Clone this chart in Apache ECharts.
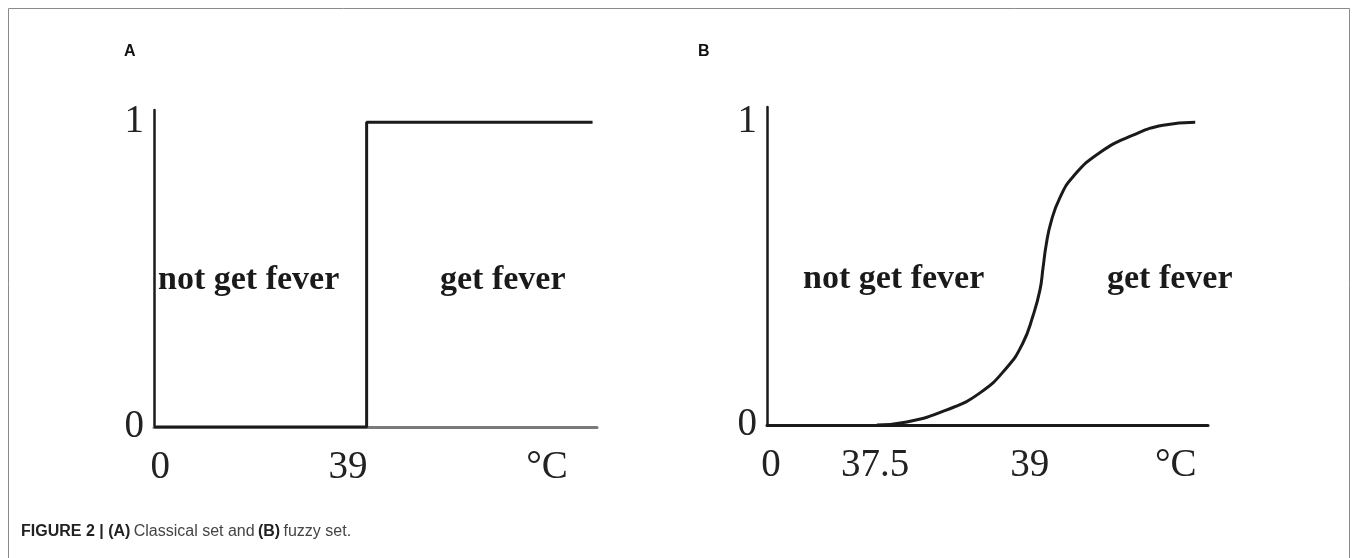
<!DOCTYPE html>
<html>
<head>
<meta charset="utf-8">
<script src="https://cdn.jsdelivr.net/npm/echarts@6/dist/echarts.min.js"></script>
<style>
  html, body { margin: 0; padding: 0; background: #fff; }
  #chart { width: 1357px; height: 558px; }
</style>
</head>
<body>
<div id="chart"></div>
<script>
// schematic x units: 0..100 across each axis
const tickPosA = [1.4, 43.8, 88.7];
const tickLabelsA = ["0", "39", "°C"];
const stepX = [0, 48, 48, 99];
const stepY = [0, 0, 1, 1];

const tickPosB = [0.9, 24.5, 59.6, 92.7];
const tickLabelsB = ["0", "37.5", "39", "°C"];
const curveX = [24.9, 31.7, 40.8, 48.3, 54.4, 58.0, 60.3, 61.9, 62.6, 63.3, 64.4, 66.4, 69.4, 75.5, 83.0, 89.8, 97.1];
const curveY = [0, 0.01, 0.05, 0.106, 0.19, 0.27, 0.36, 0.446, 0.52, 0.594, 0.67, 0.75, 0.82, 0.90, 0.957, 0.99, 1.0];

const yTicks = [0, 1];
const regionLabels = ["not get fever", "get fever"];

const chart = echarts.init(document.getElementById("chart"));

const serif = "'Liberation Serif', 'Times New Roman', serif";
const ink = "#1a1a1a";

function pairs(xs, ys) {
  return xs.map((x, i) => [x, ys[i]]);
}

function xAxisFor(gridIndex, pos, labels, lineColor) {
  return {
    type: "value",
    gridIndex,
    min: 0,
    max: 100,
    splitLine: { show: false },
    axisTick: { show: false },
    axisLine: { show: true, onZero: false, lineStyle: { color: lineColor, width: 3 } },
    axisLabel: {
      customValues: pos,
      formatter: (v) => labels[pos.indexOf(v)] || "",
      fontFamily: serif,
      fontSize: 39,
      color: "#222",
      margin: 21,
    },
  };
}

function yAxisFor(gridIndex, max) {
  return {
    type: "value",
    gridIndex,
    min: 0,
    max,
    splitLine: { show: false },
    axisTick: { show: false },
    axisLine: { show: true, lineStyle: { color: ink, width: 2.5 } },
    axisLabel: {
      customValues: yTicks,
      formatter: (v) => (yTicks.includes(v) ? String(v) : ""),
      fontFamily: serif,
      fontSize: 39,
      color: "#222",
      margin: 10,
    },
  };
}

function textAt(left, top, text, size) {
  return {
    type: "text",
    left,
    top,
    style: { text, font: "bold " + size + "px " + serif, fill: ink },
  };
}

chart.setOption({
  animation: false,
  grid: [
    { left: 154, top: 110, width: 443, height: 317 },
    { left: 767, top: 107, width: 441, height: 318 },
  ],
  xAxis: [
    xAxisFor(0, tickPosA, tickLabelsA, "#7a7a7a"),
    xAxisFor(1, tickPosB, tickLabelsB, ink),
  ],
  yAxis: [yAxisFor(0, 1.04), yAxisFor(1, 1.05)],
  series: [
    {
      type: "line",
      xAxisIndex: 0,
      yAxisIndex: 0,
      data: pairs(stepX, stepY),
      symbol: "none",
      lineStyle: { color: ink, width: 3 },
    },
    {
      type: "line",
      xAxisIndex: 1,
      yAxisIndex: 1,
      data: pairs(curveX, curveY),
      symbol: "none",
      smooth: 0.5,
      lineStyle: { color: ink, width: 3 },
    },
  ],
  graphic: [
    {
      type: "rect",
      shape: { x: 8.5, y: 8.5, width: 1341, height: 600 },
      style: { fill: "none", stroke: "#8a8a8a", lineWidth: 1 },
      silent: true,
    },
    {
      type: "text",
      left: 124,
      top: 44,
      style: { text: "A", font: "bold 16px 'Liberation Sans', Arial, sans-serif", fill: "#111" },
    },
    {
      type: "text",
      left: 698,
      top: 44,
      style: { text: "B", font: "bold 16px 'Liberation Sans', Arial, sans-serif", fill: "#111" },
    },
    textAt(158, 263, regionLabels[0], 34),
    textAt(440, 263, regionLabels[1], 34),
    textAt(803, 262, regionLabels[0], 34),
    textAt(1107, 262, regionLabels[1], 34),
    {
      type: "text",
      left: 21,
      top: 524,
      style: {
        text: "{b|FIGURE 2 | (A)} {r|Classical set and} {b|(B)} {r|fuzzy set.}",
        rich: {
          b: { font: "bold 16px 'Liberation Sans Narrow', 'Liberation Sans', Arial, sans-serif", fill: "#222" },
          r: { font: "16px 'Liberation Sans Narrow', 'Liberation Sans', Arial, sans-serif", fill: "#444" },
        },
      },
    },
  ],
});
</script>
</body>
</html>
